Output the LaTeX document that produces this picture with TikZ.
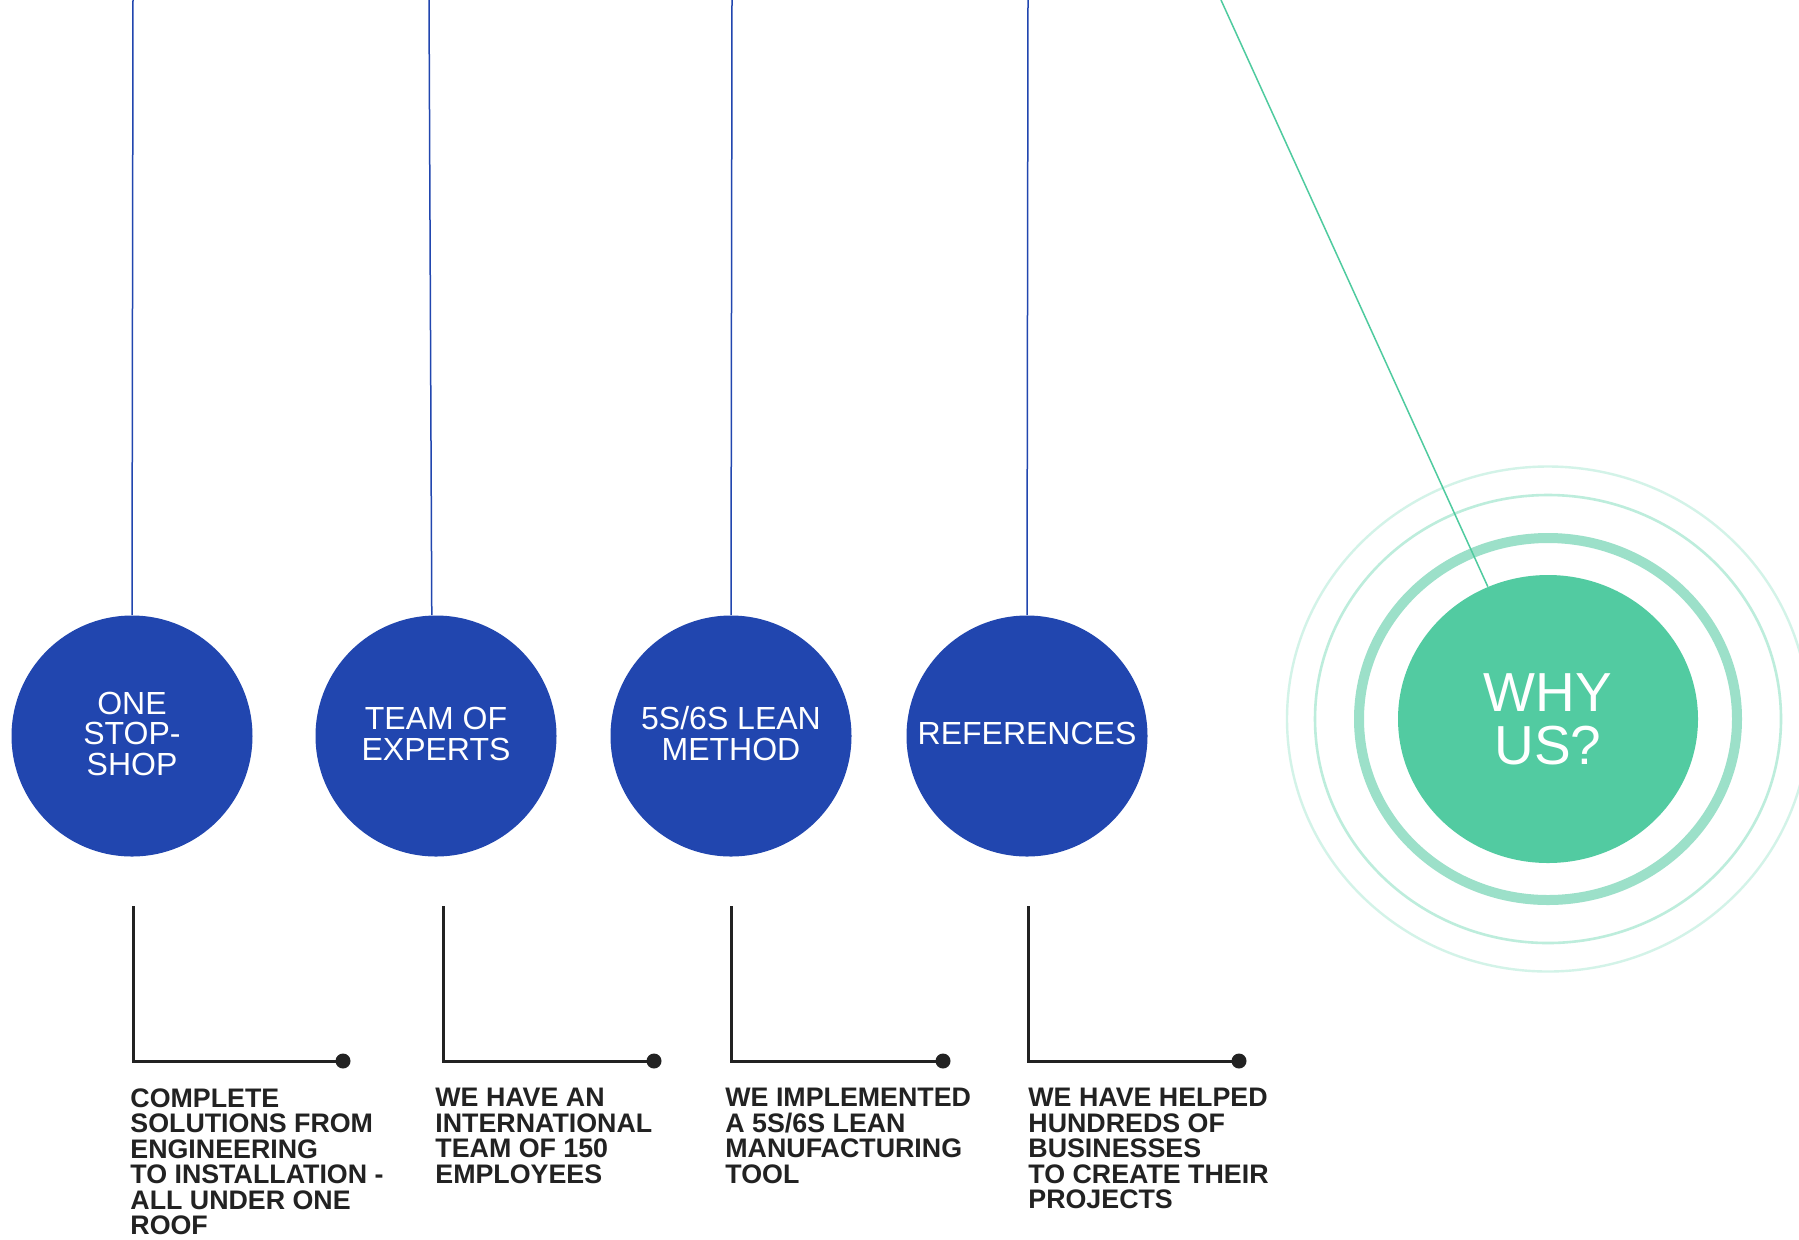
\documentclass[tikz,border=0pt]{standalone}
\usepackage{fontspec}
\setmainfont{Liberation Sans}
\usetikzlibrary{shapes.geometric}
\definecolor{navy}{HTML}{2146AF}
\definecolor{mint}{HTML}{52CBA1}
\definecolor{ringA}{HTML}{9CE0C9}
\definecolor{ringB}{HTML}{BDEDDC}
\definecolor{ringC}{HTML}{D3F3E8}
\definecolor{greenline}{HTML}{4FCB9F}
\definecolor{textdark}{HTML}{222222}
\tikzset{
  bluecirc/.style={circle, fill=navy, text=white, minimum size=120.5pt, inner sep=0pt,
    align=center, text depth=2.3pt, font=\fontsize{16}{15.4}\selectfont},
  whyell/.style={ellipse, fill=mint, text=white, minimum width=150pt, minimum height=144pt,
    inner sep=0pt, align=center, font=\fontsize{27.5}{26.6}\selectfont},
  ring/.style={ellipse, inner sep=0pt},
  bluewire/.style={draw=navy, line width=0.75pt},
  greenwire/.style={draw=greenline, line width=0.75pt},
  conn/.style={draw=textdark, line width=1.5pt},
  enddot/.style={circle, fill=textdark, minimum size=7.5pt, inner sep=0pt},
  bottomtext/.style={anchor=north west, inner sep=0pt, align=left, text=textdark,
    font=\bfseries\fontsize{13.4}{12.75}\selectfont}
}
\begin{document}
\begin{tikzpicture}[x=0.5pt,y=-0.5pt]
\fill[white] (0,0) rectangle (1799,1239);
\useasboundingbox (0,0) rectangle (1799,1239);

% rings around WHY US?
\node[ring, draw=ringC, line width=1.2pt, minimum width=261pt, minimum height=252.5pt] (rC) at (1548,719) {};
\node[ring, draw=ringB, line width=1.3pt, minimum width=233pt, minimum height=224pt] (rB) at (1548,719) {};
\node[ring, draw=ringA, line width=5pt, minimum width=189pt, minimum height=181pt] (rA) at (1548,719) {};
\node[whyell] (why) at (1548,719) {WHY\\US?};

% blue circles
\node[bluecirc] (c1) at (132,736) {ONE\\STOP-\\SHOP};
\node[bluecirc] (c2) at (436,736) {TEAM OF\\EXPERTS};
\node[bluecirc] (c3) at (731,736) {5S/6S LEAN\\METHOD};
\node[bluecirc] (c4) at (1027,736) {REFERENCES};

% top wires
\coordinate (t1) at (133,0);
\coordinate (t2) at (429,0);
\coordinate (t3) at (732,0);
\coordinate (t4) at (1028,0);
\coordinate (g0) at (1221,0);
\draw[bluewire] (t1) -- (c1.90.5);
\draw[bluewire] (t2) -- (c2.92.4);
\draw[bluewire] (t3) -- (c3.90.5);
\draw[bluewire] (t4) -- (c4.90);
\draw[greenwire] (g0) -- (why);

% L connectors
\coordinate (l1) at (133,906);
\coordinate (l2) at (443,906);
\coordinate (l3) at (731,906);
\coordinate (l4) at (1028,906);
\node[enddot] (d1) at (343,1061) {};
\node[enddot] (d2) at (654,1061) {};
\node[enddot] (d3) at (943,1061) {};
\node[enddot] (d4) at (1239,1061) {};
\draw[conn] (l1) |- (d1.center);
\draw[conn] (l2) |- (d2.center);
\draw[conn] (l3) |- (d3.center);
\draw[conn] (l4) |- (d4.center);

% texts
\node[bottomtext] (x1) at (130,1088) {COMPLETE\\SOLUTIONS FROM\\ENGINEERING\\TO INSTALLATION -\\ALL UNDER ONE\\ROOF};
\node[bottomtext] (x2) at (435,1088) {WE HAVE AN\\INTERNATIONAL\\TEAM OF 150\\EMPLOYEES};
\node[bottomtext] (x3) at (725,1088) {WE IMPLEMENTED\\A 5S/6S LEAN\\MANUFACTURING\\TOOL};
\node[bottomtext] (x4) at (1028,1088) {WE HAVE HELPED\\HUNDREDS OF\\BUSINESSES\\TO CREATE THEIR\\PROJECTS};
\end{tikzpicture}
\end{document}
